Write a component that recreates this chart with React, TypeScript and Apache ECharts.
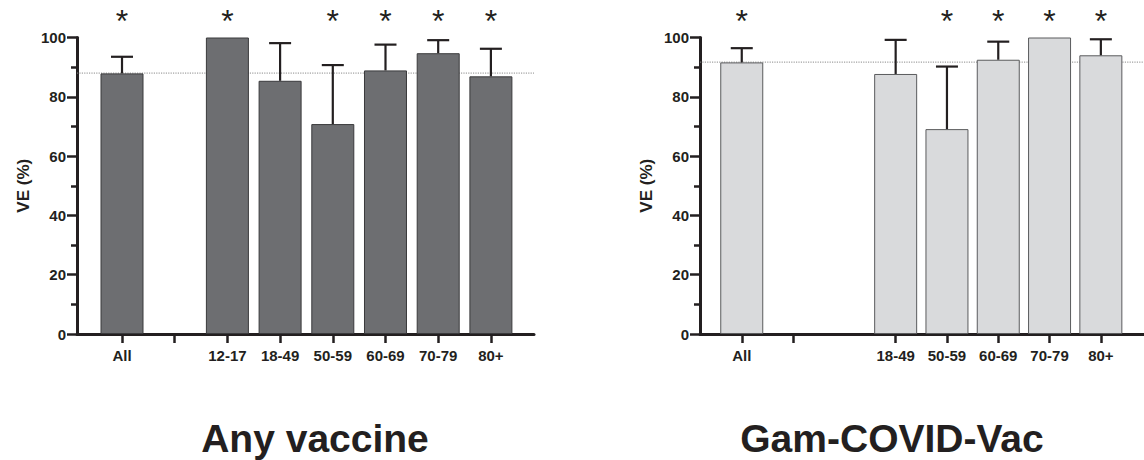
import React, { useEffect, useRef } from "react";
import * as echarts from "echarts";

// ---------- data ----------
const leftCategories = ["All", "", "12-17", "18-49", "50-59", "60-69", "70-79", "80+"];
const leftValues = [87.9, null, 100, 85.4, 70.8, 88.9, 94.7, 86.9];
const leftUpper = [93.5, null, null, 98.1, 90.7, 97.6, 99.1, 96.2];
const leftStars = [1, 0, 1, 0, 1, 1, 1, 1];
const leftTicks = [0, 1, 2, 3, 4, 5, 6, 7];
const leftReference = 88.0;
const leftTitle = "Any vaccine";

const rightCategories = ["All", "", "", "18-49", "50-59", "60-69", "70-79", "80+"];
const rightValues = [91.6, null, null, 87.7, 69.1, 92.5, 100, 94.0];
const rightUpper = [96.4, null, null, 99.2, 90.2, 98.6, null, 99.4];
const rightStars = [1, 0, 0, 0, 1, 1, 1, 1];
const rightTicks = [0, 1, 3, 4, 5, 6, 7];
const rightReference = 91.7;
const rightTitle = "Gam-COVID-Vac";

const yTicks = [0, 20, 40, 60, 80, 100];
const yAxisName = "VE (%)";
const starLevel = 105.6;

// ---------- style ----------
const FONT = '"Liberation Sans", Arial, Helvetica, sans-serif';
const INK = "#231f20";

function buildPanel(
  idx: number,
  cats: string[],
  values: (number | null)[],
  upper: (number | null)[],
  stars: number[],
  ticks: number[],
  ref: number,
  fill: string,
  border: string,
  xMin: number,
  xMax: number
) {
  const labelValues = ticks.filter((t) => cats[t] !== "");
  const xAxis = {
    type: "value",
    gridIndex: idx,
    min: xMin,
    max: xMax,
    splitLine: { show: false },
    axisLine: { show: true, onZero: false, lineStyle: { color: INK, width: 3 } },
    axisTick: {
      show: true,
      customValues: ticks,
      length: 9,
      lineStyle: { color: INK, width: 2.5 },
    },
    axisLabel: {
      show: true,
      customValues: labelValues,
      formatter: (v: number) => cats[Math.round(v)],
      margin: 14,
      fontSize: 15,
      fontWeight: "bold",
      fontFamily: FONT,
      color: INK,
    },
  };
  const yAxis = {
    type: "value",
    gridIndex: idx,
    min: 0,
    max: 100,
    interval: 20,
    name: yAxisName,
    nameLocation: "middle",
    nameGap: 45,
    nameTextStyle: { fontSize: 17, fontWeight: "bold", fontFamily: FONT, color: INK },
    splitLine: { show: false },
    axisLine: { show: true, onZero: false, lineStyle: { color: INK, width: 3 } },
    axisTick: { show: true, length: 10, lineStyle: { color: INK, width: 2.5 } },
    minorTick: { show: true, splitNumber: 2, length: 6, lineStyle: { color: INK, width: 2.5 } },
    minorSplitLine: { show: false },
    axisLabel: {
      margin: 11,
      fontSize: 15,
      fontWeight: "bold",
      fontFamily: FONT,
      color: INK,
      customValues: yTicks,
    },
  };

  const barData: number[][] = [];
  const errData: number[][] = [];
  const starData: number[][] = [];
  values.forEach((v, i) => {
    if (v !== null) barData.push([i, v]);
    const u = upper[i];
    if (v !== null && u !== null) errData.push([i, v, u]);
    if (stars[i]) starData.push([i, starLevel]);
  });

  const series: any[] = [
    {
      type: "line",
      xAxisIndex: idx,
      yAxisIndex: idx,
      data: [
        [xMin, ref],
        [xMax, ref],
      ],
      symbol: "none",
      silent: true,
      z: 1,
      lineStyle: { color: "#8a8a8a", width: 1, type: [1.2, 1.2] },
    },
    {
      type: "bar",
      xAxisIndex: idx,
      yAxisIndex: idx,
      data: barData,
      barWidth: 43,
      z: 2,
      itemStyle: { color: fill, borderColor: border, borderWidth: 1 },
    },
    {
      type: "custom",
      xAxisIndex: idx,
      yAxisIndex: idx,
      data: errData,
      encode: { x: 0, y: [1, 2] },
      z: 3,
      renderItem: (_p: any, api: any) => {
        const x = api.value(0);
        const p0 = api.coord([x, api.value(1)]);
        const p1 = api.coord([x, api.value(2)]);
        return {
          type: "group",
          children: [
            {
              type: "line",
              shape: { x1: p0[0], y1: p0[1], x2: p1[0], y2: p1[1] },
              style: { stroke: INK, lineWidth: 2.2 },
            },
            {
              type: "line",
              shape: { x1: p1[0] - 11, y1: p1[1], x2: p1[0] + 11, y2: p1[1] },
              style: { stroke: INK, lineWidth: 2.2 },
            },
          ],
        };
      },
    },
    {
      type: "custom",
      xAxisIndex: idx,
      yAxisIndex: idx,
      data: starData,
      encode: { x: 0, y: 1 },
      clip: false,
      z: 3,
      renderItem: (_p: any, api: any) => {
        const p = api.coord([api.value(0), api.value(1)]);
        return {
          type: "text",
          x: p[0],
          y: p[1],
          style: {
            text: "*",
            fontSize: 32,
            fontFamily: FONT,
            fill: INK,
            textAlign: "center",
            textVerticalAlign: "middle",
          },
        };
      },
    },
  ];
  return { xAxis, yAxis, series };
}

export default function App() {
  const ref = useRef<HTMLDivElement>(null);
  useEffect(() => {
    if (!ref.current) return;
    const chart = echarts.init(ref.current, null, { renderer: "svg" });
    const left = buildPanel(
      0, leftCategories, leftValues, leftUpper, leftStars, leftTicks, leftReference,
      "#6d6e71", "#3a3a3c", -0.854, 7.818
    );
    const right = buildPanel(
      1, rightCategories, rightValues, rightUpper, rightStars, rightTicks, rightReference,
      "#d9dadc", "#5a5b5d", -0.814, 7.841
    );
    const titleStyle = {
      fontSize: 39,
      fontWeight: "bold",
      fontFamily: FONT,
      fill: INK,
      textAlign: "center",
      textVerticalAlign: "middle",
    };
    chart.setOption({
      animation: false,
      backgroundColor: "#ffffff",
      textStyle: { fontFamily: FONT },
      grid: [
        { left: 77, top: 37.5, width: 457, height: 296.5, containLabel: false },
        { left: 700, top: 37.5, width: 457, height: 296.5, containLabel: false },
      ],
      xAxis: [left.xAxis, right.xAxis],
      yAxis: [left.yAxis, right.yAxis],
      series: [...left.series, ...right.series],
      graphic: [
        { type: "text", x: 315, y: 438, style: { ...titleStyle, text: leftTitle } },
        { type: "text", x: 892, y: 438, style: { ...titleStyle, text: rightTitle } },
      ],
    });
    return () => chart.dispose();
  }, []);
  return (
    <div
      ref={ref}
      style={{ position: "fixed", left: 0, top: 0, width: 1144, height: 460, overflow: "hidden" }}
    />
  );
}
